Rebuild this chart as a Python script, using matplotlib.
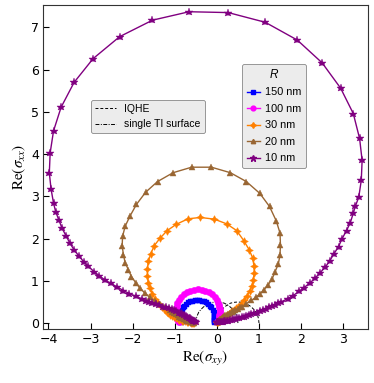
import matplotlib
matplotlib.use("Agg")
import matplotlib.pyplot as plt
from matplotlib.lines import Line2D

plt.rcParams['mathtext.fontset'] = 'stix'

# ---- data ----
labels_R = ["150 nm", "100 nm", "30 nm", "20 nm", "10 nm"]

x_150 = [-0.862, -0.869, -0.875, -0.878, -0.880, -0.878, -0.873, -0.860, -0.839, -0.810, -0.775,
         -0.734, -0.687, -0.637, -0.583, -0.527, -0.470, -0.413, -0.357, -0.303, -0.253, -0.206,
         -0.165, -0.130, -0.101, -0.080, -0.067, -0.062, -0.060, -0.062, -0.065, -0.071, -0.078]
y_150 = [0.020, 0.048, 0.076, 0.104, 0.140, 0.176, 0.218, 0.267, 0.320, 0.369, 0.414,
         0.454, 0.488, 0.515, 0.534, 0.546, 0.550, 0.546, 0.534, 0.515, 0.488, 0.454,
         0.414, 0.369, 0.320, 0.267, 0.218, 0.176, 0.140, 0.104, 0.076, 0.048, 0.020]

x_100 = [-0.900, -0.921, -0.939, -0.952, -0.962, -0.968, -0.970, -0.967, -0.957, -0.936, -0.900,
         -0.848, -0.784, -0.710, -0.628, -0.540, -0.450, -0.360, -0.272, -0.190, -0.116, -0.052,
         -0.004, 0.029, 0.050, 0.062, 0.068, 0.070, 0.068, 0.062, 0.052, 0.039, 0.021, 0.000]
y_100 = [0.020, 0.060, 0.102, 0.145, 0.190, 0.235, 0.280, 0.335, 0.397, 0.466, 0.540,
         0.614, 0.678, 0.730, 0.769, 0.792, 0.800, 0.792, 0.769, 0.730, 0.678, 0.614,
         0.548, 0.483, 0.423, 0.370, 0.325, 0.280, 0.235, 0.190, 0.145, 0.102, 0.060, 0.020]

x_30 = [-0.55, -0.57, -0.59, -0.62, -0.65, -0.68, -0.72, -0.76, -0.80, -0.84, -0.89, -0.93,
        -0.98, -1.02, -1.07, -1.11, -1.15, -1.19, -1.23, -1.31, -1.39, -1.47,
        -1.53, -1.59, -1.63, -1.65, -1.65, -1.63, -1.57, -1.49, -1.35, -1.18, -0.96, -0.68, -0.39,
        -0.06, 0.23, 0.47, 0.64, 0.77, 0.85, 0.88, 0.89, 0.86, 0.83, 0.78, 0.72, 0.65, 0.57, 0.49,
        0.45, 0.41, 0.37, 0.34, 0.31, 0.28, 0.25, 0.22, 0.19, 0.17, 0.15, 0.13, 0.11, 0.10, 0.08,
        0.07, 0.05, 0.04, 0.03, 0.01, 0.00]
y_30 = [0.00, 0.00, 0.01, 0.01, 0.02, 0.02, 0.03, 0.04, 0.05, 0.06, 0.08, 0.10,
        0.12, 0.14, 0.17, 0.20, 0.23, 0.26, 0.30, 0.38, 0.47, 0.58,
        0.69, 0.82, 0.96, 1.12, 1.28, 1.46, 1.64, 1.83, 2.01, 2.19, 2.34, 2.47, 2.50,
        2.46, 2.35, 2.19, 1.95, 1.73, 1.54, 1.36, 1.18, 1.02, 0.88, 0.76, 0.65, 0.54, 0.46, 0.38,
        0.35, 0.32, 0.29, 0.26, 0.23, 0.21, 0.19, 0.17, 0.15, 0.14, 0.12, 0.11, 0.09, 0.09, 0.07,
        0.06, 0.05, 0.04, 0.03, 0.02, 0.02]

x_20 = [-0.55, -0.57, -0.59, -0.61, -0.64, -0.67, -0.70, -0.73, -0.77, -0.81, -0.85, -0.89,
        -0.93, -0.97, -1.02, -1.07, -1.12, -1.23, -1.35, -1.47, -1.59,
        -1.71, -1.83, -1.93, -2.03, -2.10, -2.18, -2.22, -2.25, -2.24, -2.18, -2.06, -1.91, -1.69,
        -1.41, -1.04, -0.60, -0.13, 0.32, 0.70, 1.02, 1.25, 1.41, 1.50, 1.51, 1.50, 1.46, 1.38,
        1.31, 1.22, 1.12, 1.02, 0.93, 0.82, 0.70, 0.60, 0.54, 0.49, 0.44, 0.39, 0.35, 0.31, 0.27,
        0.24, 0.20, 0.17, 0.15, 0.13, 0.10, 0.08, 0.06, 0.05, 0.03, 0.02, 0.00]
y_20 = [0.01, 0.01, 0.02, 0.03, 0.04, 0.05, 0.06, 0.07, 0.09, 0.11, 0.13, 0.15,
        0.18, 0.21, 0.24, 0.27, 0.30, 0.37, 0.44, 0.52, 0.61,
        0.71, 0.83, 0.96, 1.10, 1.26, 1.43, 1.62, 1.83, 2.05, 2.29, 2.54, 2.81, 3.10,
        3.35, 3.56, 3.69, 3.69, 3.56, 3.35, 3.07, 2.76, 2.42, 2.13, 1.85, 1.62, 1.40, 1.21,
        1.04, 0.91, 0.79, 0.69, 0.61, 0.54, 0.46, 0.39, 0.37, 0.34, 0.31, 0.28, 0.26, 0.24, 0.22,
        0.20, 0.18, 0.16, 0.14, 0.12, 0.10, 0.09, 0.07, 0.06, 0.04, 0.03, 0.02]

x_10 = [-0.50, -0.52, -0.54, -0.56, -0.58, -0.61, -0.64, -0.67, -0.70, -0.74, -0.78, -0.82,
        -0.86, -0.91, -0.96, -1.01, -1.07, -1.13, -1.20, -1.29, -1.37, -1.45, -1.53, -1.61,
        -1.69, -1.77, -1.92, -2.08, -2.22, -2.38, -2.52, -2.66, -2.79, -2.92,
        -3.05, -3.16, -3.27, -3.39, -3.49, -3.58, -3.68, -3.75, -3.83, -3.88,
        -3.94, -3.98, -3.96, -3.88, -3.70, -3.39, -2.94, -2.31, -1.53, -0.66,
        0.27, 1.15, 1.91, 2.50, 2.94, 3.24, 3.39, 3.45, 3.43,
        3.37, 3.29, 3.24, 3.17, 3.08, 2.97, 2.89, 2.78, 2.68, 2.57, 2.44, 2.33, 2.21, 2.07, 1.95,
        1.81, 1.68, 1.53, 1.45, 1.38, 1.31, 1.24, 1.17, 1.10, 1.03, 0.96, 0.89, 0.82, 0.76, 0.70,
        0.64, 0.59, 0.53, 0.48, 0.43, 0.39, 0.35, 0.31, 0.27, 0.24, 0.20, 0.17, 0.14, 0.12, 0.09,
        0.07, 0.05, 0.03, 0.01, 0.00]
y_10 = [0.03, 0.04, 0.05, 0.06, 0.08, 0.09, 0.11, 0.13, 0.14, 0.16, 0.19, 0.21,
        0.23, 0.25, 0.28, 0.30, 0.33, 0.35, 0.37, 0.39, 0.42, 0.45, 0.47, 0.50,
        0.53, 0.57, 0.63, 0.70, 0.77, 0.86, 0.94, 1.02, 1.12, 1.22,
        1.34, 1.45, 1.58, 1.73, 1.89, 2.06, 2.25, 2.43, 2.64, 2.84,
        3.18, 3.56, 4.03, 4.55, 5.11, 5.70, 6.26, 6.78, 7.17, 7.37,
        7.35, 7.12, 6.70, 6.16, 5.56, 4.96, 4.37, 3.85, 3.38,
        2.98, 2.77, 2.60, 2.38, 2.19, 1.99, 1.81, 1.64, 1.47, 1.32, 1.18, 1.06, 0.95, 0.84, 0.75,
        0.65, 0.58, 0.50, 0.47, 0.43, 0.40, 0.37, 0.34, 0.31, 0.28, 0.25, 0.23, 0.21, 0.19, 0.17,
        0.15, 0.14, 0.12, 0.11, 0.10, 0.09, 0.08, 0.07, 0.06, 0.05, 0.05, 0.04, 0.03, 0.03, 0.03,
        0.02, 0.02, 0.02, 0.02, 0.02]

# reference semicircles (read: IQHE 0..1, single TI surface -1/2..1/2)
iqhe_x = [0.00, 0.01, 0.03, 0.07, 0.12, 0.18, 0.25, 0.32, 0.40, 0.50, 0.60, 0.68, 0.75, 0.82,
          0.88, 0.93, 0.97, 0.99, 1.00]
iqhe_y = [0.00, 0.10, 0.17, 0.26, 0.32, 0.38, 0.43, 0.47, 0.49, 0.50, 0.49, 0.47, 0.43, 0.38,
          0.32, 0.26, 0.17, 0.10, 0.00]
ti_x = [-0.50, -0.49, -0.47, -0.43, -0.38, -0.32, -0.25, -0.18, -0.10, 0.00, 0.10, 0.18, 0.25,
        0.32, 0.38, 0.43, 0.47, 0.49, 0.50]
ti_y = [0.00, 0.10, 0.17, 0.26, 0.32, 0.38, 0.43, 0.47, 0.49, 0.50, 0.49, 0.47, 0.43, 0.38,
        0.32, 0.26, 0.17, 0.10, 0.00]

# ---- styles ----
colors = ['#0000ff', '#ff00ff', '#ff8000', '#996633', '#800080']
markers = ['s', 'o', (4, 1, 0), '^', '*']
msizes = [3.6, 4.6, 5.6, 4.2, 6.2]

fig = plt.figure(figsize=(3.74, 3.83), dpi=100)
ax = fig.add_axes([0.115, 0.141, 0.869, 0.846])

ax.plot(iqhe_x, iqhe_y, color='black', lw=0.7, ls=(0, (3, 2)), zorder=1)
ax.plot(ti_x, ti_y, color='black', lw=0.7, ls=(0, (4, 1.5, 1, 1.5)), zorder=1)

series = [(x_150, y_150), (x_100, y_100), (x_30, y_30), (x_20, y_20), (x_10, y_10)]
for (xs, ys), c, m, ms in zip(series, colors, markers, msizes):
    ax.plot(xs, ys, color=c, lw=1.0, marker=m, ms=ms, mec=c, mfc=c, mew=0.3, zorder=2)

ax.set_xlim(-4.13, 3.59)
ax.set_ylim(-0.14, 7.53)
ax.set_xticks(range(-4, 4))
ax.set_yticks(range(0, 8))
ax.tick_params(direction='in', length=4, width=0.8, labelsize=9, top=False, right=False, pad=3)
for sp in ax.spines.values():
    sp.set_linewidth(0.8)
    sp.set_color('#333333')

ax.set_xlabel(r'Re($\sigma_{xy}$)', family='STIXGeneral', fontsize=11, labelpad=2)
ax.set_ylabel(r'Re($\sigma_{xx}$)', family='STIXGeneral', fontsize=11, labelpad=2)

leg_handles = [Line2D([], [], color=c, lw=1.0, marker=m, ms=ms * 0.75, mec=c, mfc=c)
               for c, m, ms in zip(colors, markers, msizes)]
leg1 = ax.legend(handles=leg_handles, labels=labels_R, loc='upper left',
                 bbox_to_anchor=(0.612, 0.818),
                 borderaxespad=0, title='R',
                 title_fontproperties={'family': 'Liberation Sans', 'style': 'italic', 'size': 8.5},
                 fancybox=True, framealpha=1, facecolor='#ececec', edgecolor='#888888',
                 handlelength=1.2, handletextpad=0.5, labelspacing=0.6, borderpad=0.45,
                 prop={'family': 'Liberation Sans', 'size': 7.8})
leg1.get_frame().set_linewidth(0.6)
ax.add_artist(leg1)

lh = [Line2D([], [], color='black', lw=0.7, ls=(0, (3, 2))),
      Line2D([], [], color='black', lw=0.7, ls=(0, (4, 1.5, 1, 1.5)))]
leg2 = ax.legend(handles=lh, labels=['IQHE', 'single TI surface'], loc='upper left',
                 bbox_to_anchor=(0.148, 0.707), borderaxespad=0, fancybox=True,
                 framealpha=1, facecolor='#ececec', edgecolor='#888888',
                 handlelength=2.0, handletextpad=0.8, labelspacing=0.5,
                 prop={'family': 'Liberation Sans', 'size': 7.5})
leg2.get_frame().set_linewidth(0.6)

fig.savefig('out.png', dpi=100)
